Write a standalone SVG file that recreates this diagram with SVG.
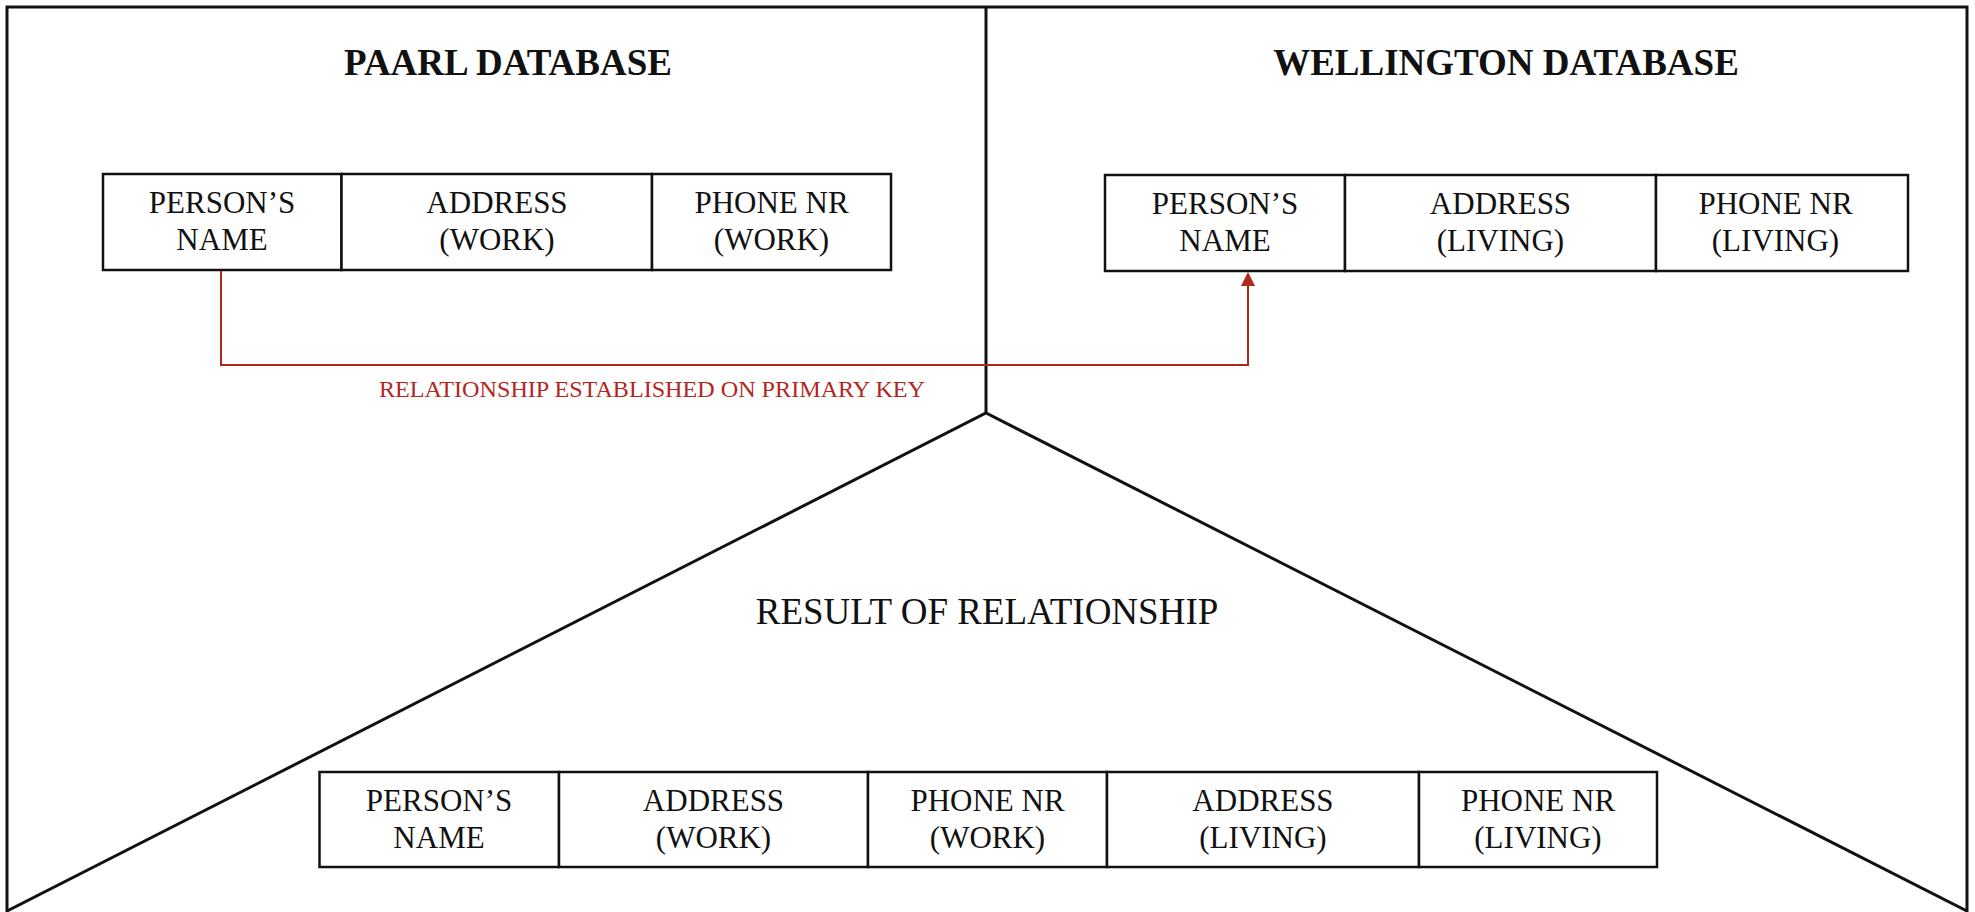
<svg xmlns="http://www.w3.org/2000/svg" width="1975" height="912" viewBox="0 0 1975 912">
  <defs>
    <style>
      .frame { fill: none; stroke: #111; stroke-width: 3; }
      .cell { fill: #fff; stroke: #111; stroke-width: 2.5; }
      .title { font-family: "Liberation Serif", "Times New Roman", serif; font-weight: bold; font-size: 37px; fill: #111; text-anchor: middle; }
      .heading { font-family: "Liberation Serif", "Times New Roman", serif; font-size: 37px; fill: #111; text-anchor: middle; }
      .ct { font-family: "Liberation Serif", "Times New Roman", serif; font-size: 31px; fill: #111; text-anchor: middle; }
      .rel { fill: none; stroke: #b3261e; stroke-width: 2; }
      .rellabel { font-family: "Liberation Serif", "Times New Roman", serif; font-size: 23.5px; fill: #b3261e; text-anchor: middle; }
    </style>
    <marker id="arrow" viewBox="0 0 14 14" refX="0" refY="7" markerWidth="14" markerHeight="14" markerUnits="userSpaceOnUse" orient="auto">
      <path d="M0,0 L14,7 L0,14 z" fill="#b3261e"/>
    </marker>
  </defs>
  <rect width="1975" height="912" fill="#fff"/>

  <g id="frame">
    <path class="frame" d="M7,912 V7 H1967 V912"/>
    <line class="frame" x1="986" y1="7" x2="986" y2="413"/>
    <path class="frame" d="M7,911 L986,413 L1967,911"/>
  </g>

  <g id="paarl-title"><text class="title" x="508" y="75">PAARL DATABASE</text></g>
  <g id="wellington-title"><text class="title" x="1506" y="75">WELLINGTON DATABASE</text></g>
  <g id="result-title"><text class="heading" x="987" y="624">RESULT OF RELATIONSHIP</text></g>

  <g id="paarl-table">
    <rect class="cell" x="103" y="174" width="238.5" height="96"/>
    <rect class="cell" x="341.5" y="174" width="310.5" height="96"/>
    <rect class="cell" x="652" y="174" width="239" height="96"/>
    <text class="ct" x="222" y="213">PERSON’S</text>
    <text class="ct" x="222" y="250">NAME</text>
    <text class="ct" x="497" y="213">ADDRESS</text>
    <text class="ct" x="497" y="250">(WORK)</text>
    <text class="ct" x="771.5" y="213">PHONE NR</text>
    <text class="ct" x="771.5" y="250">(WORK)</text>
  </g>

  <g id="wellington-table">
    <rect class="cell" x="1105" y="175" width="240" height="96"/>
    <rect class="cell" x="1345" y="175" width="311" height="96"/>
    <rect class="cell" x="1656" y="175" width="252" height="96"/>
    <text class="ct" x="1225" y="214">PERSON’S</text>
    <text class="ct" x="1225" y="251">NAME</text>
    <text class="ct" x="1500.5" y="214">ADDRESS</text>
    <text class="ct" x="1500.5" y="251">(LIVING)</text>
    <text class="ct" x="1775.5" y="214">PHONE NR</text>
    <text class="ct" x="1775.5" y="251">(LIVING)</text>
  </g>

  <g id="result-table">
    <rect class="cell" x="319.5" y="772" width="239.5" height="95"/>
    <rect class="cell" x="559" y="772" width="309" height="95"/>
    <rect class="cell" x="868" y="772" width="239" height="95"/>
    <rect class="cell" x="1107" y="772" width="312" height="95"/>
    <rect class="cell" x="1419" y="772" width="238" height="95"/>
    <text class="ct" x="439" y="811">PERSON’S</text>
    <text class="ct" x="439" y="848">NAME</text>
    <text class="ct" x="713.5" y="811">ADDRESS</text>
    <text class="ct" x="713.5" y="848">(WORK)</text>
    <text class="ct" x="987.5" y="811">PHONE NR</text>
    <text class="ct" x="987.5" y="848">(WORK)</text>
    <text class="ct" x="1263" y="811">ADDRESS</text>
    <text class="ct" x="1263" y="848">(LIVING)</text>
    <text class="ct" x="1538" y="811">PHONE NR</text>
    <text class="ct" x="1538" y="848">(LIVING)</text>
  </g>

  <g id="connectors">
    <path class="rel" d="M221,271 V365 H1248 V286" marker-end="url(#arrow)"/>
    <text class="rellabel" x="652" y="397" textLength="546" lengthAdjust="spacingAndGlyphs">RELATIONSHIP ESTABLISHED ON PRIMARY KEY</text>
  </g>
</svg>
